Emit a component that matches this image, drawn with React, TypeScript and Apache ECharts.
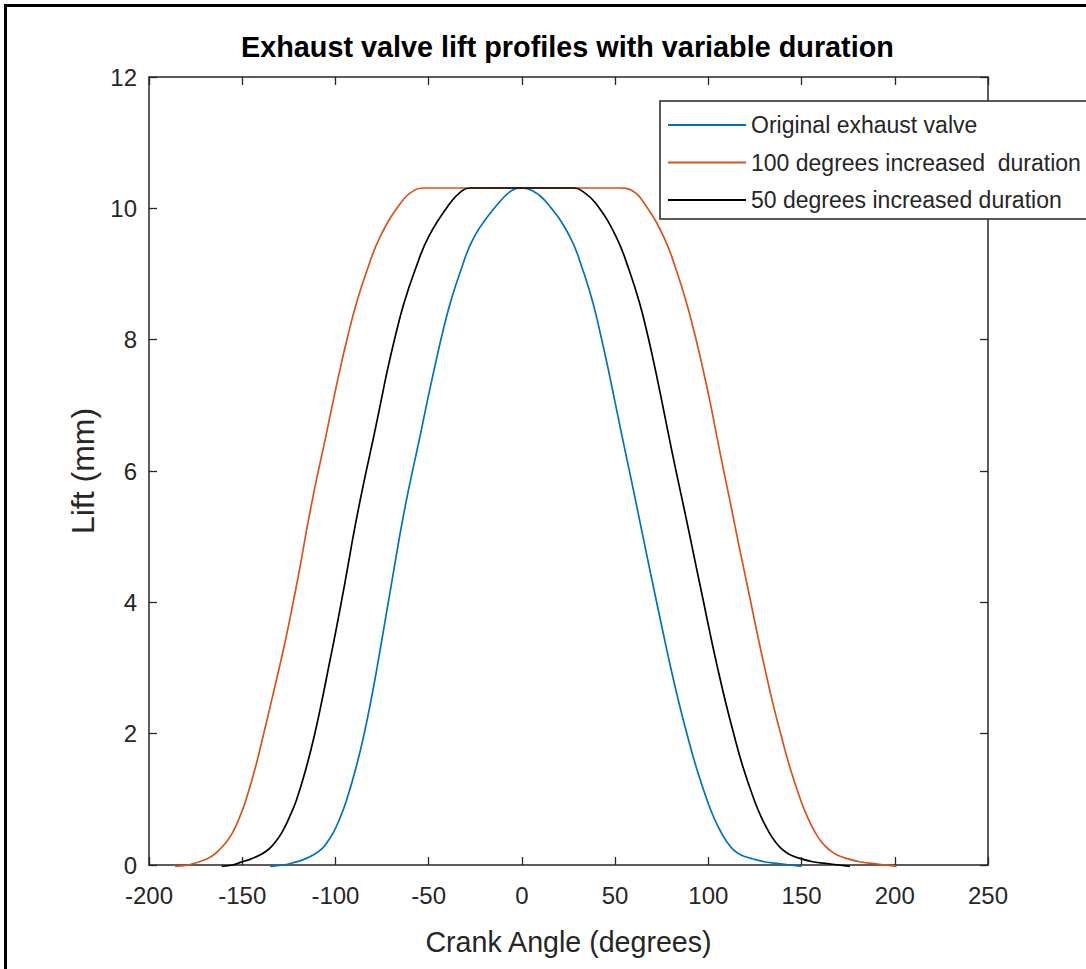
import React, { useEffect, useRef } from "react";
import * as echarts from "echarts";

const TITLE = "Exhaust valve lift profiles with variable duration";
const X_NAME = "Crank Angle (degrees)";
const Y_NAME = "Lift (mm)";
const SERIES_NAMES = [
  "Original exhaust valve",
  "100 degrees increased  duration",
  "50 degrees increased duration",
];
const SERIES_COLORS = ["#0072BD", "#D95319", "#000000"];

// [crank angle (deg), lift (mm)]
const originalLift: [number, number][] = [
  [-135, -0.02], [-128, 0.0], [-122, 0.04], [-116.5, 0.09], [-111.5, 0.16],
  [-107.5, 0.24], [-104.3, 0.35], [-101, 0.5], [-97.5, 0.72], [-94, 0.99],
  [-88.8, 1.5], [-84.5, 2.01], [-80.9, 2.51], [-77.6, 3.02], [-74.5, 3.53],
  [-71.4, 4.04], [-68.4, 4.54], [-65.3, 5.05], [-61.9, 5.56], [-58.6, 6.01],
  [-54.7, 6.52], [-51, 7.03], [-47.1, 7.54], [-43.1, 8.04], [-38.5, 8.55],
  [-32.7, 9.06], [-25.5, 9.57], [-12.5, 10.08], [-5.5, 10.27], [0, 10.31],
  [5.5, 10.27], [13.5, 10.08], [25.7, 9.57], [32.7, 9.06], [38.2, 8.55],
  [42.5, 8.04], [46.4, 7.54], [50.1, 7.03], [53.8, 6.52], [57.6, 6.01],
  [60.9, 5.56], [64.6, 5.05], [68.3, 4.54], [72, 4.04], [75.8, 3.53],
  [79.7, 3.02], [83.9, 2.51], [88.4, 2.01], [93.4, 1.5], [99.3, 0.99],
  [103, 0.72], [106.8, 0.5], [110, 0.35], [113.2, 0.24], [117, 0.16],
  [123, 0.1], [130, 0.05], [138, 0.02], [150, -0.02],
];

const lift100: [number, number][] = [
  [-186, -0.02], [-179, 0.0], [-173, 0.05], [-168.5, 0.1], [-165, 0.16],
  [-162, 0.24], [-158.5, 0.35], [-155, 0.5], [-151.5, 0.72], [-148, 0.99],
  [-142.8, 1.5], [-138.4, 2.01], [-134.2, 2.51], [-130, 3.02], [-126, 3.53],
  [-122.4, 4.04], [-119, 4.54], [-115.8, 5.05], [-112.4, 5.56], [-109.1, 6.01],
  [-105.2, 6.52], [-101.5, 7.03], [-97.6, 7.54], [-93.5, 8.04], [-88.8, 8.55],
  [-83, 9.06], [-76, 9.57], [-65, 10.08], [-58, 10.27], [-52.5, 10.31],
  [52.5, 10.31], [59, 10.27], [65.5, 10.08], [76, 9.57], [82.8, 9.06],
  [88.4, 8.55], [93.1, 8.04], [97.2, 7.54], [101.1, 7.03], [104.6, 6.52],
  [108.2, 6.01], [111.5, 5.56], [115.1, 5.05], [118.8, 4.54], [122.5, 4.04],
  [126.2, 3.53], [130.1, 3.02], [134.2, 2.51], [138.7, 2.01], [143.6, 1.5],
  [149.5, 0.99], [153.3, 0.72], [157.2, 0.5], [160.7, 0.35], [164.5, 0.24],
  [168.5, 0.16], [174, 0.1], [181, 0.05], [189, 0.02], [201, -0.02],
];

const lift50: [number, number][] = [
  [-161, -0.02], [-155, 0.0], [-151, 0.04], [-145.5, 0.09], [-140, 0.16],
  [-135.8, 0.24], [-132.2, 0.35], [-128.6, 0.5], [-124.8, 0.72], [-120.9, 0.99],
  [-115.5, 1.5], [-111, 2.01], [-107.2, 2.51], [-103.6, 3.02], [-100, 3.53],
  [-96.6, 4.04], [-93.4, 4.54], [-90.2, 5.05], [-86.7, 5.56], [-83.4, 6.01],
  [-79.5, 6.52], [-75.8, 7.03], [-72.1, 7.54], [-68, 8.04], [-63.3, 8.55],
  [-57.3, 9.06], [-50, 9.57], [-38.5, 10.08], [-32, 10.27], [-27.5, 10.31],
  [28, 10.31], [32, 10.27], [39.5, 10.08], [50.5, 9.57], [57.5, 9.06],
  [63.2, 8.55], [67.7, 8.04], [71.6, 7.54], [75.3, 7.03], [78.9, 6.52],
  [82.6, 6.01], [86, 5.56], [89.8, 5.05], [93.5, 4.54], [97.2, 4.04],
  [100.9, 3.53], [104.8, 3.02], [109, 2.51], [113.5, 2.01], [118.5, 1.5],
  [124.6, 0.99], [128.5, 0.72], [132.5, 0.5], [136, 0.35], [139.5, 0.24],
  [143.5, 0.16], [149, 0.1], [156, 0.05], [164, 0.02], [176, -0.02],
];

const SERIES_DATA = [originalLift, lift100, lift50];

const X_MIN = -200;
const X_MAX = 250;
const X_STEP = 50;
const Y_MIN = 0;
const Y_MAX = 12;
const Y_STEP = 2;

const FONT = "'Liberation Sans', Arial, Helvetica, sans-serif";
const AXIS_COLOR = "#262626";

export default function App() {
  const ref = useRef<HTMLDivElement>(null);

  useEffect(() => {
    if (!ref.current) return;
    const chart = echarts.init(ref.current, undefined, { renderer: "svg" });

    const axisLine = { show: true, onZero: false, lineStyle: { color: AXIS_COLOR, width: 1.5 } };
    const axisTick = { show: true, inside: true, length: 8, lineStyle: { color: AXIS_COLOR, width: 1.3 } };

    chart.setOption({
      animation: false,
      backgroundColor: "#ffffff",
      textStyle: { fontFamily: FONT },
      title: {
        text: TITLE,
        left: 241,
        top: 32,
        padding: 0,
        textStyle: { fontFamily: FONT, fontSize: 28.8, fontWeight: "bold", color: "#000000" },
      },
      legend: {
        orient: "vertical",
        left: 660,
        top: 101,
        padding: [11, 8, 6, 8],
        borderColor: AXIS_COLOR,
        borderWidth: 1.5,
        backgroundColor: "#ffffff",
        icon: "rect",
        itemWidth: 78,
        itemHeight: 2,
        itemGap: 11.5,
        textStyle: { fontFamily: FONT, fontSize: 23, lineHeight: 26, color: AXIS_COLOR },
        data: SERIES_NAMES,
      },
      grid: { left: 149, right: 98, top: 77, bottom: 104, containLabel: false },
      xAxis: [
        {
          type: "value",
          position: "bottom",
          min: X_MIN,
          max: X_MAX,
          interval: X_STEP,
          name: X_NAME,
          nameLocation: "middle",
          nameGap: 62,
          nameTextStyle: { fontFamily: FONT, fontSize: 28.6, color: AXIS_COLOR },
          axisLine,
          axisTick,
          axisLabel: { fontFamily: FONT, fontSize: 24, color: AXIS_COLOR, margin: 18 },
          splitLine: { show: false },
        },
        {
          type: "value",
          position: "top",
          min: X_MIN,
          max: X_MAX,
          interval: X_STEP,
          axisLine,
          axisTick,
          axisLabel: { show: false },
          splitLine: { show: false },
        },
      ],
      yAxis: [
        {
          type: "value",
          position: "left",
          min: Y_MIN,
          max: Y_MAX,
          interval: Y_STEP,
          name: Y_NAME,
          nameLocation: "middle",
          nameGap: 46,
          nameTextStyle: { fontFamily: FONT, fontSize: 32, color: AXIS_COLOR },
          axisLine,
          axisTick,
          axisLabel: { fontFamily: FONT, fontSize: 24, color: AXIS_COLOR, margin: 12 },
          splitLine: { show: false },
        },
        {
          type: "value",
          position: "right",
          min: Y_MIN,
          max: Y_MAX,
          interval: Y_STEP,
          axisLine,
          axisTick,
          axisLabel: { show: false },
          splitLine: { show: false },
        },
      ],
      series: SERIES_NAMES.map((name, i) => ({
        name,
        type: "line",
        xAxisIndex: 0,
        yAxisIndex: 0,
        data: SERIES_DATA[i],
        showSymbol: false,
        symbol: "none",
        smooth: 0.45,
        clip: false,
        color: SERIES_COLORS[i],
        itemStyle: { color: SERIES_COLORS[i] },
        lineStyle: { color: SERIES_COLORS[i], width: 1.7 },
        z: 3 + i,
      })),
      graphic: [
        {
          type: "rect",
          silent: true,
          z: 100,
          shape: { x: 5.5, y: 5.5, width: 1200, height: 1100 },
          style: { fill: "none", stroke: "#000000", lineWidth: 3 },
        },
      ],
    });

    return () => chart.dispose();
  }, []);

  return (
    <div
      ref={ref}
      style={{ position: "absolute", left: 0, top: 0, width: 1086, height: 969, background: "#fff" }}
    />
  );
}
